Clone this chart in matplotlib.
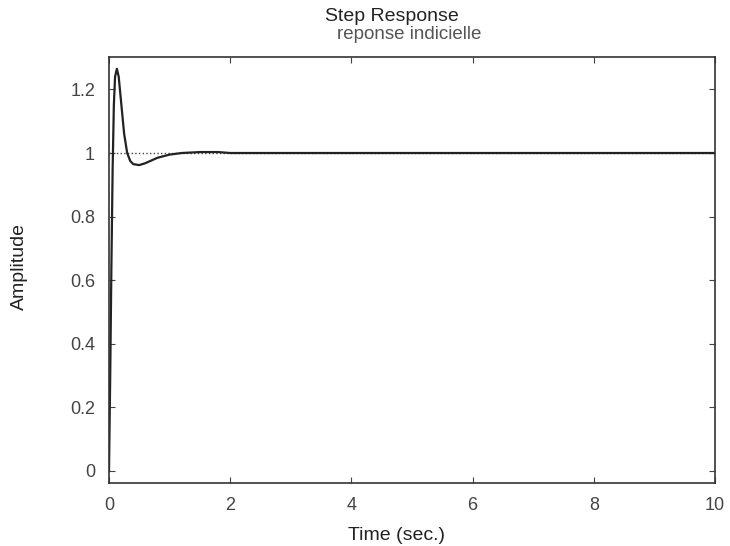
import numpy as np
import matplotlib
matplotlib.use('Agg')
import matplotlib.pyplot as plt

# reponse indicielle (t en s, amplitude)
t = [0, 0.02, 0.04, 0.06, 0.08, 0.1, 0.13, 0.16, 0.2, 0.25, 0.3, 0.35, 0.4,
     0.5, 0.6, 0.8, 1.0, 1.2, 1.5, 1.8, 2.0, 10]
y = [0, 0.3, 0.65, 0.95, 1.15, 1.24, 1.265, 1.24, 1.16, 1.06, 1.0, 0.975, 0.965,
     0.962, 0.968, 0.985, 0.995, 1.0, 1.003, 1.003, 1.0, 1.0]
xticks = [0, 2, 4, 6, 8, 10]
yticks = [0, 0.2, 0.4, 0.6, 0.8, 1, 1.2]
ytick_labels = ['0', '0.2', '0.4', '0.6', '0.8', '1', '1.2']

plt.rcParams['font.family'] = ['Liberation Sans', 'DejaVu Sans']

fig = plt.figure(figsize=(7.3, 5.46), dpi=100)
ax = fig.add_axes([109 / 730, 1 - 483 / 546, 606 / 730, 426 / 546])

ax.plot([0, 10], [1, 1], ':', color='#444444', lw=1)
ax.plot(t, y, color='#222222', lw=1.6)

ax.set_xlim(0, 10)
ax.set_ylim(-0.038, 1.302)
ax.set_xticks(xticks)
ax.set_yticks(yticks)
ax.set_yticklabels(ytick_labels)
ax.tick_params(direction='in', length=4, top=True, right=True,
               labelsize=13, colors='#444444', pad=10)
for s in ax.spines.values():
    s.set_linewidth(1.2)
    s.set_color('#333333')

ax.set_xlabel('Time (sec.)', fontsize=14, color='#222222')
ax.xaxis.set_label_coords((397 - 109) / 606, (483 - 535) / 426)
ax.set_ylabel('Amplitude', fontsize=14, color='#222222')
ax.yaxis.set_label_coords((19 - 109) / 606, (483 - 266) / 426)
ax.xaxis.label.set_va('center')
ax.yaxis.label.set_va('center')
fig.text(392 / 730, 1 - 21 / 546, 'Step Response', ha='center', va='baseline',
         fontsize=14, color='#222222')
fig.text(409 / 730, 1 - 39 / 546, 'reponse indicielle', ha='center', va='baseline',
         fontsize=13.5, color='#555555')

plt.savefig('out.png', dpi=100)
